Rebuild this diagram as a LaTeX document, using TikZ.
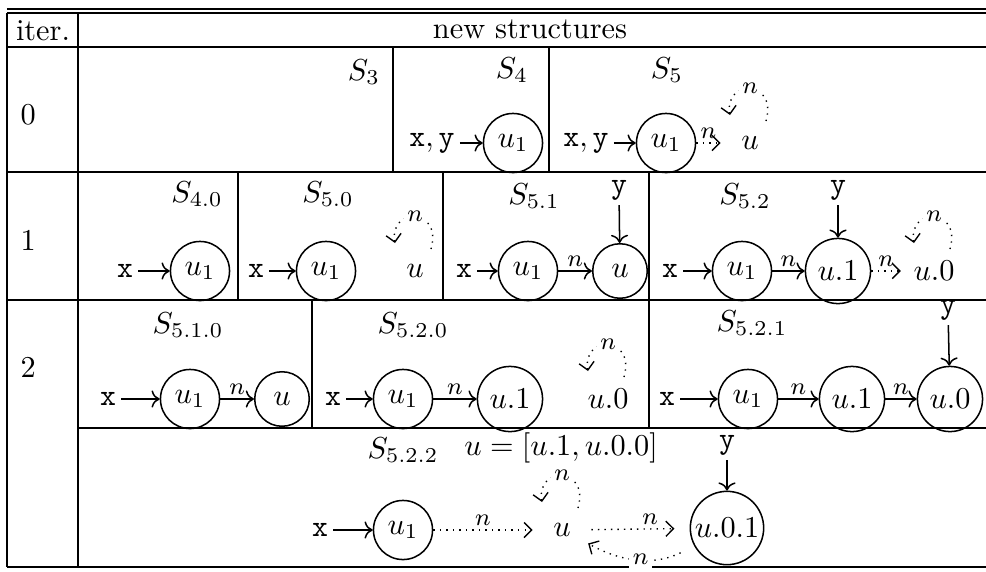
\documentclass[tikz,border=0pt]{standalone}
\usetikzlibrary{arrows.meta}
\newcommand{\sloop}[1]{%
  \draw[sa] ([shift={(16,-22)}]#1.center) .. controls ([shift={(28,-64)}]#1.center) and ([shift={(-26,-64)}]#1.center) .. ([shift={(-20,-28)}]#1.center)
    node[pos=.5,el,fill=white]{$n$};}
\begin{document}
\begin{tikzpicture}[x=0.33pt,y=-0.33pt,
  tl/.style={line width=0.5pt},
  cn/.style={circle,draw,line width=0.5pt,inner sep=0pt,minimum size=19.5pt},
  cns/.style={cn,minimum size=18pt},
  cnb/.style={cn,minimum size=21.5pt},
  sn/.style={circle,inner sep=0pt,minimum size=19pt},
  snb/.style={sn,minimum size=21.5pt},
  tx/.style={inner sep=1.5pt},
  ar/.style={->,line width=0.5pt},
  sa/.style={line width=0.45pt,dash pattern=on 0.45pt off 1.7pt,-{Straight Barb[length=2.5pt,width=5pt]}},
  el/.style={font=\footnotesize,inner sep=1.2pt}
]
\useasboundingbox (0,0) rectangle (986,571);
% table rules
\draw[tl] (7,9) -- (986,9);
\draw[tl] (7,13) -- (986,13);
\draw[tl] (7,47) -- (986,47);
\draw[tl] (7,172) -- (986,172);
\draw[tl] (7,300) -- (986,300);
\draw[tl] (78,428) -- (986,428);
\draw[tl] (7,567) -- (986,567);
\draw[tl] (7,13) -- (7,567);
\draw[tl] (78,13) -- (78,567);
\draw[tl] (393,47) -- (393,172);
\draw[tl] (549,47) -- (549,172);
\draw[tl] (238,172) -- (238,300);
\draw[tl] (443,172) -- (443,300);
\draw[tl] (649,172) -- (649,300);
\draw[tl] (312,300) -- (312,428);
\draw[tl] (649,300) -- (649,428);
% header
\node (hiter) at (43,31) {iter.};
\node (hnew) at (530,29) {new structures};
\node[anchor=west] (r0) at (10,115) {0};
\node[anchor=west] (r1) at (10,240) {1};
\node[anchor=west] (r2) at (10,367) {2};
% row 0
\node (s3) at (364,72) {$S_3$};
\node (s4) at (512,70) {$S_4$};
\node[tx] (xy4) at (432,143) {$\mathtt{x},\mathtt{y}$};
\node[cn] (c4) at (513,143) {$u_1$};
\draw[ar] (xy4) -- (c4);
\node (s5) at (667,70) {$S_5$};
\node[tx] (xy5) at (586,143) {$\mathtt{x},\mathtt{y}$};
\node[cn] (c5) at (666,143) {$u_1$};
\node[sn] (u5) at (750,143) {$u$};
\draw[ar] (xy5) -- (c5);
\draw[sa] (c5) -- node[el,above]{$n$} (u5);
\sloop{u5}
% row 1
\node (s40) at (197,194) {$S_{4.0}$};
\node[tx] (x40) at (125,271) {\texttt{x}};
\node[cn] (c40) at (200,271) {$u_1$};
\draw[ar] (x40) -- (c40);
\node (s50) at (328,194) {$S_{5.0}$};
\node[tx] (x50) at (256,271) {\texttt{x}};
\node[cn] (c50) at (326,271) {$u_1$};
\node[sn] (u50) at (415,271) {$u$};
\draw[ar] (x50) -- (c50);
\sloop{u50}
\node (s51) at (534,196) {$S_{5.1}$};
\node[tx] (x51) at (464,271) {\texttt{x}};
\node[cn] (c51a) at (528,271) {$u_1$};
\node[cns] (c51b) at (620,271) {$u$};
\node[tx] (y51) at (619,190) {\texttt{y}};
\draw[ar] (x51) -- (c51a);
\draw[ar] (c51a) -- node[el,above]{$n$} (c51b);
\draw[ar] (y51) -- (c51b);
\node (s52) at (745,196) {$S_{5.2}$};
\node[tx] (x52) at (670,271) {\texttt{x}};
\node[cn] (c52a) at (742,271) {$u_1$};
\node[cnb] (c52b) at (838,271) {$u.1$};
\node[snb] (u52) at (934,271) {$u.0$};
\node[tx] (y52) at (838,190) {\texttt{y}};
\draw[ar] (x52) -- (c52a);
\draw[ar] (c52a) -- node[el,above]{$n$} (c52b);
\draw[ar] (y52) -- (c52b);
\draw[sa] (c52b) -- node[el,above]{$n$} (u52);
\sloop{u52}
% row 2
\node (s510) at (188,325) {$S_{5.1.0}$};
\node[tx] (x510) at (108,399) {\texttt{x}};
\node[cn] (c510a) at (190,399) {$u_1$};
\node[cns] (c510b) at (282,399) {$u$};
\draw[ar] (x510) -- (c510a);
\draw[ar] (c510a) -- node[el,above]{$n$} (c510b);
\node (s520) at (413,325) {$S_{5.2.0}$};
\node[tx] (x520) at (333,399) {\texttt{x}};
\node[cn] (c520a) at (403,399) {$u_1$};
\node[cnb] (c520b) at (510,399) {$u.1$};
\node[snb] (u520) at (608,399) {$u.0$};
\draw[ar] (x520) -- (c520a);
\draw[ar] (c520a) -- node[el,above]{$n$} (c520b);
\sloop{u520}
\node (s521) at (752,323) {$S_{5.2.1}$};
\node[tx] (x521) at (667,399) {\texttt{x}};
\node[cn] (c521a) at (748,399) {$u_1$};
\node[cnb] (c521b) at (852,399) {$u.1$};
\node[cnb] (c521c) at (950,399) {$u.0$};
\node[tx] (y521) at (948,310) {\texttt{y}};
\draw[ar] (x521) -- (c521a);
\draw[ar] (c521a) -- node[el,above]{$n$} (c521b);
\draw[ar] (c521b) -- node[el,above]{$n$} (c521c);
\draw[ar] (y521) -- (c521c);
% row 2b
\node (s522) at (403,450) {$S_{5.2.2}$};
\node (ueq) at (561,448) {$u=[u.1,u.0.0]$};
\node[tx] (y522) at (727,445) {\texttt{y}};
\node[tx] (x522) at (320,530) {\texttt{x}};
\node[cn] (c522) at (403,530) {$u_1$};
\node[sn] (u522) at (562,530) {$u$};
\node[circle,draw,line width=0.5pt,inner sep=0.8pt] (c5221) at (727,528) {$u.0.1$};
\draw[ar] (x522) -- (c522);
\draw[sa] (c522) -- node[el,above]{$n$} (u522);
\sloop{u522}
\draw[sa,shorten >=5pt] (u522) -- node[el,above,pos=.6]{$n$} (c5221);
\draw[sa,shorten <=5pt] (c5221) to[bend left=28] node[el,fill=white]{$n$} (u522);
\draw[ar] (y522) -- (c5221);
\end{tikzpicture}
\end{document}
